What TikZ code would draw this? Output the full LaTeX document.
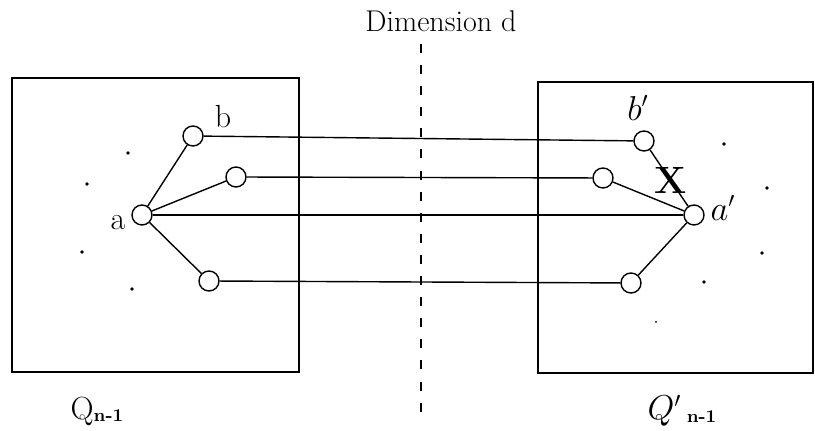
\documentclass[tikz,border=0pt]{standalone}
\usepackage{tikz}
\usetikzlibrary{positioning}

\tikzset{
    vertex/.style={circle, draw, line width=0.7pt, fill=white, inner sep=0pt, minimum size=10pt},
    edge/.style={line width=0.7pt},
    cube/.style={line width=0.75pt},
    freedot/.style={fill=black},
    lbl/.style={font=\fontsize{16}{18}\selectfont, inner sep=0pt}
}
\newcommand{\subdim}{\raisebox{-1.3pt}{\fontsize{9}{10}\selectfont\bfseries n-1}}

\begin{document}
\begin{tikzpicture}[x=0.5pt, y=-0.5pt]
    \useasboundingbox (0,0) rectangle (815,431);

    % ── Dimension d: the cut between the two halves ──────────────────
    \node[font=\fontsize{15}{17}\selectfont, inner sep=0pt] (dimlabel) at (441, 21) {Dimension d};
    \coordinate (cuttop) at (421, 44);
    \coordinate (cutbot) at (421, 412);
    \draw[line width=0.9pt, dash pattern=on 4.5pt off 6.05pt] (cuttop) -- (cutbot);

    % ── Q_{n-1}: left subcube ────────────────────────────────────────
    \draw[cube] (12, 78) rectangle (299, 372);
    \node[lbl] (qleft) at (97, 411) {Q\subdim};

    \node[vertex] (a)  at (142, 215) {};
    \node[vertex] (b)  at (193, 136) {};
    \node[vertex] (m)  at (236, 177) {};
    \node[vertex] (c)  at (209, 281) {};
    \node[lbl] at (118, 223) {a};
    \node[lbl] at (223, 117) {b};

    % other vertices of the left subcube
    \foreach \px/\py in {128/153, 87/184, 82/252, 132/289}
        \fill[freedot] (\px, \py) circle (0.9pt);

    \draw[edge] (a) -- (b);
    \draw[edge] (a) -- (m);
    \draw[edge] (a) -- (c);

    % ── Q'_{n-1}: right subcube ──────────────────────────────────────
    \draw[cube] (538, 82) -- (538, 373) -- (813, 373) -- (813, 82) -- cycle;
    \node[lbl] (qright) at (682, 411) {$Q'$\,\subdim};

    \node[vertex] (a') at (694, 215) {};
    \node[vertex] (b') at (644, 141) {};
    \node[vertex] (m') at (603, 178) {};
    \node[vertex] (c') at (631, 283) {};
    \node[lbl] at (723, 208) {$a'$};
    \node[lbl] at (638, 108) {$b'$};

    % other vertices of the right subcube
    \foreach \px/\py in {724/144, 767/188, 762/253, 704/282}
        \fill[freedot] (\px, \py) circle (0.9pt);
    \fill[freedot] (656, 322) circle (0.5pt);

    \draw[edge] (a') -- (b') node[pos=0.45, inner sep=0pt, font=\fontsize{19}{21}\selectfont\bfseries] {X};
    \draw[edge] (a') -- (m');
    \draw[edge] (a') -- (c');

    % ── links across dimension d ─────────────────────────────────────
    \draw[edge] (b) -- (b');
    \draw[edge] (m) -- (m');
    \draw[edge] (a) -- (a');
    \draw[edge] (c) -- (c');
\end{tikzpicture}
\end{document}
